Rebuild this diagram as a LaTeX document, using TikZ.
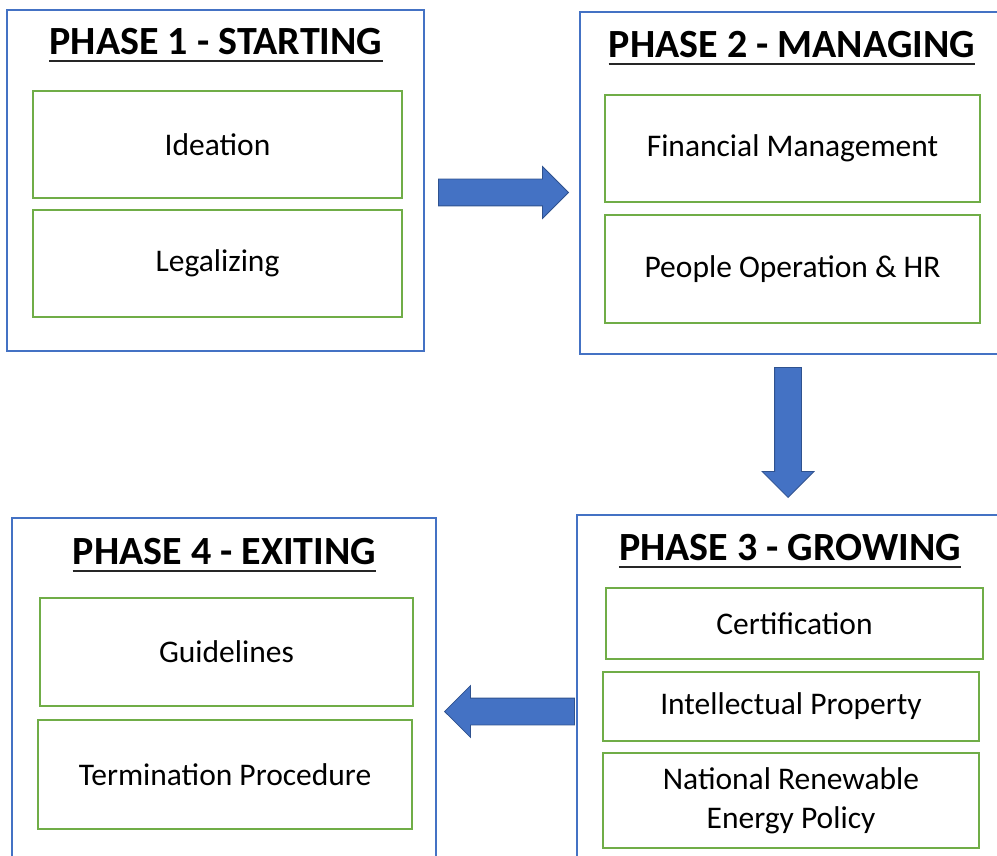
\documentclass[tikz,border=0pt]{standalone}
\usepackage{fontspec}
\setmainfont{Carlito}
\usepackage{tikz}
\usetikzlibrary{shapes.arrows}
\definecolor{boxblue}{RGB}{68,114,196}
\definecolor{boxgreen}{RGB}{112,173,71}
\definecolor{arrowedge}{RGB}{47,82,143}
\tikzset{%
    phase/.style={%
        draw=boxblue, line width=2.4pt, fill=white, inner sep=0pt
    }
}
\tikzset{%
    task/.style={%
        draw=boxgreen, line width=2.4pt, align=center, inner sep=0pt,
        font=\fontsize{31.5}{39}\selectfont
    }
}
\tikzset{%
    title/.style={%
        anchor=base, inner sep=0pt, font=\fontsize{40}{46}\selectfont\bfseries
    }
}
\tikzstyle{titleline}=[line width=2.4pt, black!85]
\tikzstyle{blockarrow}=[single arrow, draw=arrowedge, fill=boxblue, line width=0.8pt,
    inner sep=0pt, text height=26pt, text depth=0pt, single arrow head extend=12.5pt,
    minimum height=130pt, anchor=tip]

\begin{document}
\begin{tikzpicture}[x=1pt, y=-1pt]
  \useasboundingbox (0,0) rectangle (997,856);
  \clip (0,0) rectangle (997,856);

  % phase boxes
  \node[phase, minimum width=417pt, minimum height=341pt] (P1) at (215.5,180.5) {};
  \node[phase, minimum width=440pt, minimum height=342pt] (P2) at (800,183) {};
  \node[phase, minimum width=443pt, minimum height=385pt] (P3) at (798.5,707.5) {};
  \node[phase, minimum width=424pt, minimum height=382pt] (P4) at (224,709) {};

  % titles
  \node[title] (T1) at (216,55) {PHASE 1 - STARTING};
  \node[title] (T2) at (792,58) {PHASE 2 - MANAGING};
  \node[title] (T3) at (790,560) {PHASE 3 - GROWING};
  \node[title] (T4) at (224.5,564) {PHASE 4 - EXITING};
  \draw[titleline] ([yshift=-6pt]T1.base west) -- ([yshift=-6pt]T1.base east);
  \draw[titleline] ([yshift=-6pt]T2.base west) -- ([yshift=-6pt]T2.base east);
  \draw[titleline] ([yshift=-7pt]T3.base west) -- ([yshift=-7pt]T3.base east);
  \draw[titleline] ([yshift=-7pt]T4.base west) -- ([yshift=-7pt]T4.base east);

  % phase 1
  \node[task, minimum width=369pt, minimum height=107pt] (Idea) at (217.5,144.5) {Ideation};
  \node[task, minimum width=369pt, minimum height=107pt] (Legal) at (217.5,263.5) {Legalizing};
  % phase 2
  \node[task, minimum width=375pt, minimum height=107pt] (Fin) at (792.5,148.5) {Financial Management};
  \node[task, minimum width=375pt, minimum height=108pt] (HR) at (792.5,269) {People Operation \& HR};
  % phase 3
  \node[task, minimum width=377pt, minimum height=71pt] (Cert) at (794.5,623.5) {Certification};
  \node[task, minimum width=376pt, minimum height=69pt] (IP) at (791,706.5) {Intellectual Property};
  \node[task, minimum width=376pt, minimum height=95pt] (NREP) at (791,800.5) {National Renewable\\Energy Policy};
  % phase 4
  \node[task, minimum width=373pt, minimum height=108pt] (Guide) at (226.5,652) {Guidelines};
  \node[task, minimum width=374pt, minimum height=109pt] (Term) at (225,774.5) {Termination Procedure};

  % block arrows
  \node[blockarrow] (A12) at (569,192.5) {};
  \node[blockarrow, rotate=-90] (A23) at (788,498) {};
  \node[blockarrow, rotate=180] (A34) at (444,711.5) {};
\end{tikzpicture}
\end{document}
